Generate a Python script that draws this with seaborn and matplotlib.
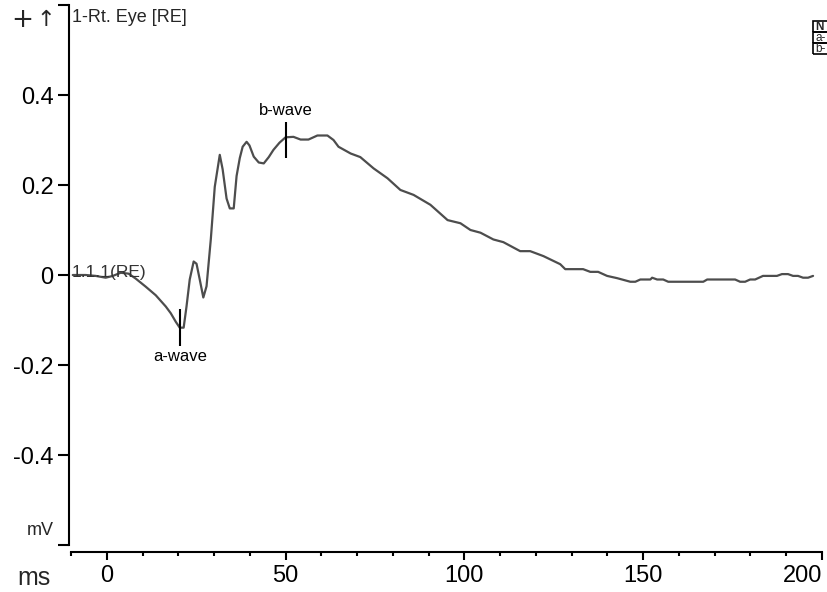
import matplotlib
matplotlib.use("Agg")
import matplotlib.pyplot as plt
from matplotlib.ticker import MultipleLocator
from matplotlib.patches import Rectangle
import seaborn as sns
import pandas as pd

# ----------------------------
# ERG trace (ms, mV)
# ----------------------------
time_ms = [-9.5, -5.9, -3.1, -0.3, 1.7, 3.9, 6.1, 8.1, 10.9, 13.7,
           16.5, 17.9, 19.3, 20.4, 21.5, 22.3, 23.2, 24.3, 25.1, 26.0,
           27.0, 27.9, 29.1, 30.2, 31.6, 32.4, 33.5, 34.4, 35.5, 36.3,
           37.2, 38.0, 39.1, 39.9, 41.1, 42.5, 43.9, 45.3, 46.6, 48.3,
           50.0, 52.2, 54.2, 56.4, 58.9, 61.7, 63.4, 64.8, 68.2, 70.9,
           74.6, 78.5, 82.1, 85.8, 90.5, 95.3, 98.9, 101.7, 104.5, 108.1,
           110.9, 115.6, 118.4, 122.1, 126.8, 128.2, 133.2, 135.2, 137.4, 139.9,
           142.7, 146.4, 147.8, 149.2, 152.0, 152.5, 153.9, 155.6, 157.0, 166.8,
           167.9, 175.7, 177.1, 178.5, 179.9, 181.3, 183.5, 187.4, 188.8, 190.5,
           191.9, 193.3, 194.7, 196.1, 197.5]
amp_mv = [0.0, 0.0, -0.002, -0.006, -0.002, 0.005, 0.003, -0.008, -0.026, -0.045,
          -0.07, -0.085, -0.104, -0.117, -0.117, -0.07, -0.01, 0.030, 0.025, -0.01,
          -0.050, -0.025, 0.08, 0.196, 0.267, 0.235, 0.17, 0.148, 0.148, 0.22,
          0.26, 0.285, 0.296, 0.288, 0.263, 0.25, 0.248, 0.262, 0.278, 0.294,
          0.306, 0.307, 0.301, 0.301, 0.310, 0.310, 0.300, 0.285, 0.270, 0.262,
          0.237, 0.215, 0.189, 0.178, 0.156, 0.122, 0.115, 0.100, 0.094, 0.079,
          0.073, 0.053, 0.053, 0.042, 0.024, 0.013, 0.013, 0.007, 0.007, -0.002,
          -0.007, -0.015, -0.015, -0.010, -0.010, -0.006, -0.010, -0.010, -0.015, -0.015,
          -0.010, -0.010, -0.015, -0.015, -0.010, -0.010, -0.002, -0.002, 0.002, 0.002,
          -0.002, -0.002, -0.006, -0.006, -0.002]

peak_names = ["a-wave", "b-wave"]
peak_ms = [20.4, 50.0]
peak_mv = [-0.117, 0.300]

y_ticks = [-0.6, -0.4, -0.2, 0, 0.2, 0.4, 0.6]
y_tick_labels = ["", "-0.4", "-0.2", "0", "0.2", "0.4", ""]
x_ticks = [0, 50, 100, 150, 200]

channel_title = "1-Rt. Eye [RE]"
trace_label = "1.1.1(RE)"
table_rows = ["N", "a-", "b-"]

sns.set_theme(style="white")
plt.rcParams["font.family"] = ["Liberation Sans", "DejaVu Sans"]

W, H = 827, 592
fig = plt.figure(figsize=(W / 100, H / 100), dpi=100)
ax = fig.add_axes([71 / W, 47 / H, 751 / W, 540 / H])

df = pd.DataFrame({"ms": time_ms, "mV": amp_mv})
sns.lineplot(data=df, x="ms", y="mV", ax=ax, color="#4d4d4d", linewidth=1.6)

ax.set_xlim(-10, 200)
ax.set_ylim(-0.6, 0.6)
ax.set_xlabel("")
ax.set_ylabel("")

# axes look: detached spines, only left + bottom
for side in ["top", "right"]:
    ax.spines[side].set_visible(False)
for side in ["left", "bottom"]:
    ax.spines[side].set_color("black")
    ax.spines[side].set_linewidth(1.5)
ax.spines["left"].set_position(("outward", 1.5))
ax.spines["bottom"].set_position(("outward", 5))

ax.set_yticks(y_ticks, y_tick_labels)
ax.set_xticks(x_ticks)
ax.xaxis.set_minor_locator(MultipleLocator(10))
ax.tick_params(axis="y", left=True, direction="out", length=8, width=1.5,
               color="black", labelsize=17, labelcolor="black", pad=3)
ax.tick_params(axis="x", which="major", bottom=True, direction="out", length=6,
               width=1.5, color="black", labelsize=17, labelcolor="black", pad=3.5)
ax.tick_params(axis="x", which="minor", bottom=True, direction="out", length=3,
               width=1.5, color="black")
ax.grid(False)
# last x label sits inside the figure edge, as in the reference
ax.get_xticklabels()[-1].set_horizontalalignment("right")

# peak markers + labels
for name, t, v in zip(peak_names, peak_ms, peak_mv):
    ax.vlines(t, v - 0.041, v + 0.041, color="black", linewidth=1.5)
    off = -0.065 if v < 0 else 0.065
    ax.text(t, v + off, name, ha="center", va="center", fontsize=12, color="black")

ax.text(-9.7, 0.005, trace_label, ha="left", va="center", fontsize=12.5, color="#333333")

# header text and unit labels
fig.text(72 / W, 1 - 17 / H, channel_title, ha="left", va="center", fontsize=13)
fig.text(22 / W, 1 - 20 / H, "+", ha="center", va="center", fontsize=19,
         family="DejaVu Sans")
fig.text(46 / W, 1 - 20 / H, "\u2191", ha="center", va="center", fontsize=16,
         family="DejaVu Sans")
fig.text(17 / W, 7 / H, "ms", ha="left", va="baseline", fontsize=18)
fig.text(54 / W, 57 / H, "mV", ha="right", va="baseline", fontsize=13)

# clipped legend table in the top-right corner
row_edges = [20.7, 32.3, 43.3, 54.3]
x0 = 813
for i, label in enumerate(table_rows):
    top, bot = row_edges[i], row_edges[i + 1]
    fig.add_artist(Rectangle((x0 / W, 1 - bot / H), (W + 5 - x0) / W, (bot - top) / H,
                             transform=fig.transFigure, fill=False,
                             edgecolor="black", linewidth=1.2))
    fig.text((x0 + 2) / W, 1 - (top + bot) / 2 / H, label, ha="left", va="center",
             fontsize=8.5, fontweight="bold" if i == 0 else "normal")

fig.savefig("out.png", dpi=100)
